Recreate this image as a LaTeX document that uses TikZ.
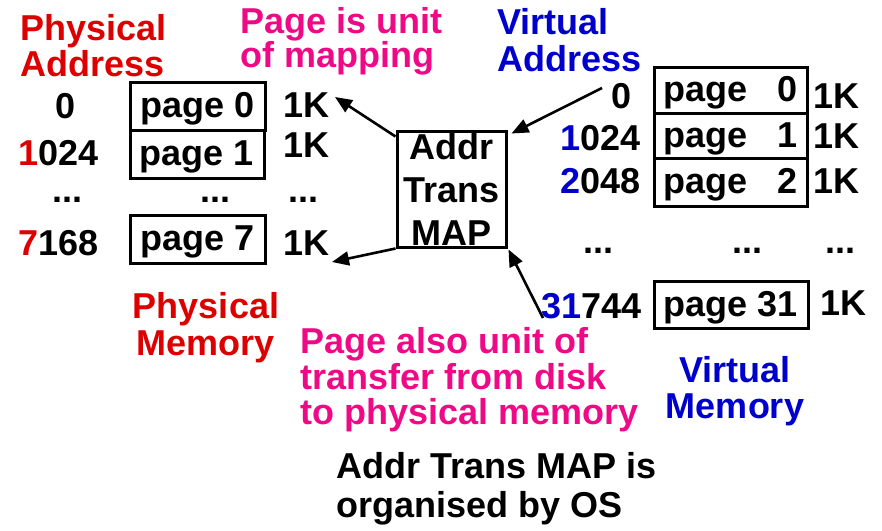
\documentclass[tikz,border=0pt]{standalone}
\usepackage{fontspec}
\setmainfont{Liberation Sans}
\usetikzlibrary{arrows.meta,calc}
\definecolor{cred}{RGB}{221,0,0}
\definecolor{cpink}{RGB}{238,10,135}
\definecolor{cblue}{RGB}{0,0,204}
\begin{document}
\begin{tikzpicture}[x=1pt,y=-1pt,
  txt/.style={anchor=base west,inner sep=0pt,font=\fontsize{36}{36}\selectfont\bfseries},
  txtc/.style={anchor=base,inner sep=0pt,font=\fontsize{36}{36}\selectfont\bfseries},
  pbox/.style={draw,line width=3pt,inner sep=0pt,text height=30pt,text depth=7pt,font=\fontsize{36}{36}\selectfont\bfseries},
  arr/.style={line width=2.6pt,-{Triangle[length=17pt,width=14pt]}}]
\useasboundingbox (0,0) rectangle (882,530);
% top labels
\node[txt,cred] (pa1) at (20,40) {Physical};
\node[txt,cred] (pa2) at (20,76) {Address};
\node[txt,cpink] (pm1) at (240,33) {Page is unit};
\node[txt,cpink] (pm2) at (240,67) {of mapping};
\node[txt,cblue] (va1) at (497,34) {Virtual};
\node[txt,cblue] (va2) at (497,71) {Address};
% left addresses
\node[txtc] (pA0) at (66,118) {0};
\node[txt] (pA1) at (18,165) {\textcolor{cred}{1}024};
\node[txt] (pAd) at (52,202) {...};
\node[txt] (pA7) at (18,255) {\textcolor{cred}{7}168};
% left boxes
\node[pbox,minimum width=135pt,minimum height=48pt] (pp0) at (197.5,106) {page 0};
\node[pbox,minimum width=134pt,minimum height=48pt] (pp1) at (197,154) {page 1};
\node[txt] (ppd) at (200,202) {...};
\node[pbox,minimum width=135pt,minimum height=48pt] (pp7) at (197.5,239) {page 7};
% left sizes
\node[txt] (pk0) at (283,117) {1K};
\node[txt] (pk1) at (283,157) {1K};
\node[txt] (pkd) at (288,202) {...};
\node[txt] (pk7) at (283,255) {1K};
% map
\node[draw,line width=3pt,inner sep=0pt,minimum width=109pt,minimum height=116pt,align=center,font=\fontsize{36}{43}\selectfont\bfseries] (map) at (451.5,189) {Addr\\Trans\\MAP};
% right addresses
\node[txt] (vA0) at (611,108) {0};
\node[txt] (vA1) at (560,150) {\textcolor{cblue}{1}024};
\node[txt] (vA2) at (560,193) {\textcolor{cblue}{2}048};
\node[txt] (vAd) at (583,253) {...};
\node[txt] (vA31) at (541,318) {\textcolor{cblue}{31}744};
% right boxes
\node[pbox,minimum width=153pt,minimum height=46pt] (vp0) at (730.5,90) {\makebox[134pt]{page\hfill 0}};
\node[pbox,minimum width=153pt,minimum height=45pt] (vp1) at (730.5,135.5) {\makebox[134pt]{page\hfill 1}};
\node[pbox,minimum width=153pt,minimum height=48pt] (vp2) at (730.5,182) {\makebox[134pt]{page\hfill 2}};
\node[txt] (vpd) at (732,253) {...};
\node[pbox,minimum width=154pt,minimum height=47pt] (vp31) at (731,304.5) {\makebox[134pt]{page 31\hfill}};
% right sizes
\node[txt] (vk0) at (813,108) {1K};
\node[txt] (vk1) at (813,148) {1K};
\node[txt] (vk2) at (813,193) {1K};
\node[txt] (vkd) at (825,253) {...};
\node[txt] (vk31) at (820,315) {1K};
% bottom labels
\node[txtc,cred] (pmem1) at (206,318) {Physical};
\node[txtc,cred] (pmem2) at (206,355) {Memory};
\node[txt,cpink] (pt1) at (300,353) {Page also unit of};
\node[txt,cpink] (pt2) at (300,389) {transfer from disk};
\node[txt,cpink] (pt3) at (300,424) {to physical memory};
\node[txtc,cblue] (vmem1) at (735,382) {Virtual};
\node[txtc,cblue] (vmem2) at (735,418) {Memory};
\node[txt] (os1) at (336,478) {Addr Trans MAP is};
\node[txt] (os2) at (336,517) {organised by OS};
% arrows
\coordinate (t1) at (335,97);
\coordinate (t2) at (332,262);
\coordinate (s3) at (602,88);
\coordinate (s4) at (543,318);
\draw[arr] ($(map.north west)+(0,7)$) -- (t1);
\draw[arr] (map.south west) -- (t2);
\draw[arr] (s3) -- ($(map.north east)+(4,4)$);
\draw[arr] (s4) -- ($(map.south east)+(1,1)$);
\end{tikzpicture}
\end{document}
